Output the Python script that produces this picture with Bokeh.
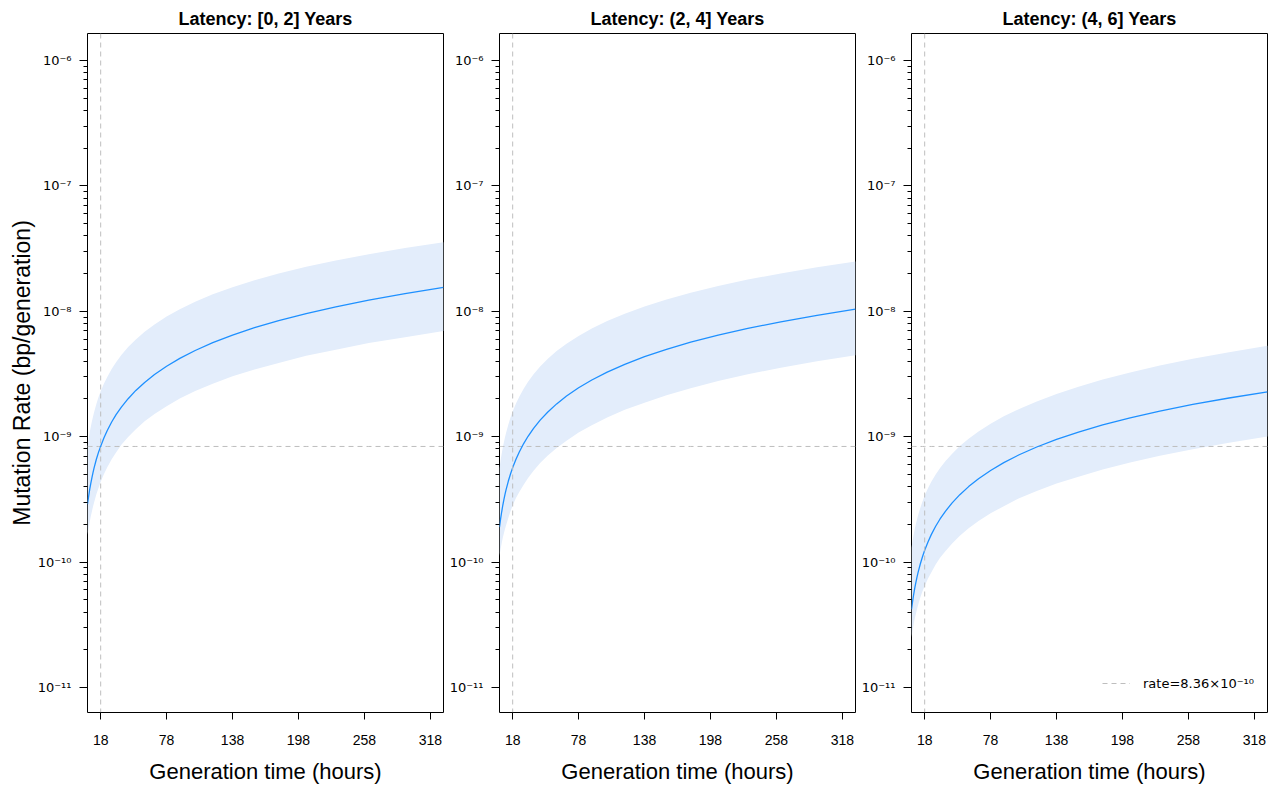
from bokeh.plotting import figure
from bokeh.models import (FixedTicker, Range1d, Span, Legend, LegendItem,
                          CustomJSTickFormatter)
from bokeh.layouts import row
from bokeh.embed import file_html
from bokeh.resources import INLINE

# ---------------- data ----------------
gen_hours = [6, 7, 8, 9, 10, 11, 12, 14, 16, 18, 21, 24, 28, 32, 37, 43, 50, 58, 67, 78,
             90, 104, 120, 138, 158, 180, 205, 232, 262, 295, 330]

panel_titles = ["Latency: [0, 2] Years", "Latency: (2, 4] Years", "Latency: (4, 6] Years"]

rate_mid_0_2 = [2.9e-10, 3.33e-10, 3.8e-10, 4.25e-10, 4.7e-10, 5.17e-10, 5.64e-10, 6.58e-10,
                7.5e-10, 8.4e-10, 9.8e-10, 1.12e-9, 1.31e-9, 1.5e-9, 1.73e-9, 2.01e-9, 2.34e-9,
                2.71e-9, 3.13e-9, 3.65e-9, 4.21e-9, 4.87e-9, 5.62e-9, 6.46e-9, 7.4e-9, 8.43e-9,
                9.6e-9, 1.086e-8, 1.227e-8, 1.383e-8, 1.55e-8]
rate_hi_0_2 = [8.41e-10, 9.56e-10, 1.083e-9, 1.203e-9, 1.321e-9, 1.442e-9, 1.568e-9, 1.816e-9,
               2.063e-9, 2.302e-9, 2.656e-9, 3.0e-9, 3.47e-9, 3.93e-9, 4.5e-9, 5.19e-9, 5.97e-9,
               6.86e-9, 7.86e-9, 9.09e-9, 1.04e-8, 1.193e-8, 1.366e-8, 1.557e-8, 1.769e-8,
               1.998e-8, 2.266e-8, 2.541e-8, 2.847e-8, 3.195e-8, 3.55e-8]
rate_lo_0_2 = [1.653e-10, 1.865e-10, 2.09e-10, 2.316e-10, 2.538e-10, 2.766e-10, 2.989e-10,
               3.455e-10, 3.9e-10, 4.368e-10, 5.047e-10, 5.712e-10, 6.616e-10, 7.5e-10, 8.65e-10,
               9.95e-10, 1.147e-9, 1.328e-9, 1.518e-9, 1.752e-9, 2.021e-9, 2.313e-9, 2.641e-9,
               3.036e-9, 3.441e-9, 3.878e-9, 4.416e-9, 4.941e-9, 5.583e-9, 6.224e-9, 6.975e-9]

rate_mid_2_4 = [1.9e-10, 2.21e-10, 2.52e-10, 2.84e-10, 3.15e-10, 3.47e-10, 3.78e-10, 4.41e-10,
                5.04e-10, 5.67e-10, 6.62e-10, 7.56e-10, 8.82e-10, 1.008e-9, 1.166e-9, 1.355e-9,
                1.575e-9, 1.827e-9, 2.111e-9, 2.457e-9, 2.835e-9, 3.276e-9, 3.78e-9, 4.347e-9,
                4.977e-9, 5.67e-9, 6.458e-9, 7.308e-9, 8.253e-9, 9.293e-9, 1.04e-8]
rate_hi_2_4 = [5.6e-10, 6.48e-10, 7.33e-10, 8.21e-10, 9.04e-10, 9.92e-10, 1.077e-9, 1.248e-9,
               1.421e-9, 1.593e-9, 1.84e-9, 2.087e-9, 2.417e-9, 2.742e-9, 3.148e-9, 3.631e-9,
               4.19e-9, 4.823e-9, 5.51e-9, 6.364e-9, 7.286e-9, 8.354e-9, 9.563e-9, 1.091e-8,
               1.244e-8, 1.406e-8, 1.595e-8, 1.79e-8, 2.005e-8, 2.249e-8, 2.496e-8]
rate_lo_2_4 = [1.121e-10, 1.271e-10, 1.411e-10, 1.562e-10, 1.701e-10, 1.839e-10, 1.966e-10,
               2.249e-10, 2.545e-10, 2.835e-10, 3.244e-10, 3.629e-10, 4.145e-10, 4.687e-10,
               5.364e-10, 6.165e-10, 7.088e-10, 8.13e-10, 9.288e-10, 1.081e-9, 1.233e-9,
               1.425e-9, 1.644e-9, 1.869e-9, 2.14e-9, 2.438e-9, 2.777e-9, 3.142e-9, 3.549e-9,
               3.996e-9, 4.472e-9]

rate_mid_4_6 = [4.2e-11, 4.87e-11, 5.54e-11, 6.22e-11, 6.9e-11, 7.59e-11, 8.28e-11, 9.66e-11,
                1.104e-10, 1.242e-10, 1.449e-10, 1.656e-10, 1.932e-10, 2.208e-10, 2.553e-10,
                2.967e-10, 3.45e-10, 4.0e-10, 4.62e-10, 5.38e-10, 6.21e-10, 7.18e-10, 8.28e-10,
                9.52e-10, 1.09e-9, 1.242e-9, 1.415e-9, 1.601e-9, 1.808e-9, 2.036e-9, 2.277e-9]
rate_hi_4_6 = [1.302e-10, 1.485e-10, 1.662e-10, 1.841e-10, 2.015e-10, 2.186e-10, 2.36e-10,
               2.705e-10, 3.047e-10, 3.391e-10, 3.883e-10, 4.372e-10, 5.004e-10, 5.63e-10,
               6.408e-10, 7.328e-10, 8.418e-10, 9.64e-10, 1.1e-9, 1.27e-9, 1.453e-9, 1.666e-9,
               1.913e-9, 2.19e-9, 2.507e-9, 2.857e-9, 3.255e-9, 3.698e-9, 4.176e-9, 4.724e-9,
               5.305e-9]
rate_lo_4_6 = [2.52e-11, 2.873e-11, 3.213e-11, 3.545e-11, 3.864e-11, 4.212e-11, 4.554e-11,
               5.216e-11, 5.851e-11, 6.458e-11, 7.39e-11, 8.28e-11, 9.563e-11, 1.082e-10,
               1.225e-10, 1.409e-10, 1.622e-10, 1.86e-10, 2.125e-10, 2.448e-10, 2.795e-10,
               3.231e-10, 3.685e-10, 4.236e-10, 4.796e-10, 5.465e-10, 6.226e-10, 7.044e-10,
               7.955e-10, 8.958e-10, 1.002e-9]

ref_rate = 8.36e-10
ref_gen_hours = 18
legend_label = "rate=8.36×10⁻¹⁰"

x_ticks = [18, 78, 138, 198, 258, 318]
y_ticks = [1e-11, 1e-10, 1e-9, 1e-8, 1e-7, 1e-6]
y_tick_labels = ["10⁻¹¹", "10⁻¹⁰", "10⁻⁹", "10⁻⁸", "10⁻⁷", "10⁻⁶"]

x_label = "Generation time (hours)"
y_label = "Mutation Rate (bp/generation)"

# ---------------- styling ----------------
FONT = "Liberation Sans"
SUP_FONT = "DejaVu Sans"
LINE_BLUE = "#1E90FF"
BAND_BLUE = "#E3EDFB"
DASH_GREY = "#BEBEBE"
FRAME_W = 356

y_minor = [m * d for d in y_ticks[:-1] for m in range(2, 10)]

series = [
    (rate_lo_0_2, rate_mid_0_2, rate_hi_0_2),
    (rate_lo_2_4, rate_mid_2_4, rate_hi_2_4),
    (rate_lo_4_6, rate_mid_4_6, rate_hi_4_6),
]

y_fmt_code = """
for (let i = 0; i < tvals.length; i++) {
  if (Math.abs(Math.log10(tick) - Math.log10(tvals[i])) < 1e-6) { return tlabels[i]; }
}
return "";
"""

panels = []
for i, (title, (lo, mid, hi)) in enumerate(zip(panel_titles, series)):
    first = (i == 0)
    ml = 87 if first else 54
    p = figure(width=ml + FRAME_W + 2, height=786, y_axis_type="log",
               x_range=Range1d(6, 330), y_range=Range1d(6.32e-12, 1.642e-6),
               output_backend="svg", toolbar_location=None,
               min_border_left=ml, min_border_right=2,
               min_border_top=33, min_border_bottom=74)
    p.grid.visible = False
    p.outline_line_color = "black"
    p.outline_line_width = 1
    p.background_fill_color = "white"
    p.border_fill_color = "white"

    p.title.text = title
    p.title.text_font = FONT
    p.title.text_font_size = "18px"
    p.title.text_font_style = "bold"
    p.title.text_color = "black"
    p.title.align = "center"
    p.title.standoff = 10

    p.varea(x=gen_hours, y1=lo, y2=hi, fill_color=BAND_BLUE, fill_alpha=1.0)
    ref_line = p.line(x=gen_hours, y=[ref_rate] * len(gen_hours), line_color=DASH_GREY,
                      line_dash="5 4", line_width=1)
    p.add_layout(Span(location=ref_gen_hours, dimension="height", line_color=DASH_GREY,
                      line_dash="5 4", line_width=1, level="glyph"))
    p.line(x=gen_hours, y=mid, line_color=LINE_BLUE, line_width=1.3)

    # x axis
    xa = p.xaxis[0]
    xa.ticker = FixedTicker(ticks=x_ticks)
    xa.axis_line_color = None
    xa.major_tick_in = 0
    xa.major_tick_out = 7
    xa.minor_tick_line_color = None
    xa.major_label_text_font = FONT
    xa.major_label_text_font_size = "14px"
    xa.major_label_text_color = "black"
    xa.major_label_standoff = 15
    xa.axis_label = x_label
    xa.axis_label_text_font = FONT
    xa.axis_label_text_font_size = "22px"
    xa.axis_label_text_font_style = "normal"
    xa.axis_label_text_color = "black"
    xa.axis_label_standoff = 11

    # y axis
    ya = p.yaxis[0]
    ya.ticker = FixedTicker(ticks=y_ticks, minor_ticks=y_minor)
    ya.formatter = CustomJSTickFormatter(args=dict(tvals=y_ticks, tlabels=y_tick_labels),
                                         code=y_fmt_code)
    ya.axis_line_color = None
    ya.major_tick_in = 0
    ya.major_tick_out = 8
    ya.minor_tick_in = 0
    ya.minor_tick_out = 4
    ya.major_label_text_font = SUP_FONT
    ya.major_label_text_font_size = "13px"
    ya.major_label_text_color = "black"
    ya.major_label_standoff = 8
    if first:
        ya.axis_label = y_label
        ya.axis_label_text_font = FONT
        ya.axis_label_text_font_size = "23px"
        ya.axis_label_text_font_style = "normal"
        ya.axis_label_text_color = "black"
        ya.axis_label_standoff = 0

    if i == 2:
        legend = Legend(items=[LegendItem(label=legend_label, renderers=[ref_line])],
                        location=(191, 21))
        legend.padding = 0
        legend.margin = 0
        legend.glyph_width = 28
        legend.glyph_height = 16
        legend.label_standoff = 13
        legend.label_text_font = SUP_FONT
        legend.label_text_font_size = "13px"
        legend.label_text_color = "black"
        legend.border_line_alpha = 0
        legend.background_fill_alpha = 0
        p.add_layout(legend)

    panels.append(p)

layout = row(*panels, spacing=0)
open("out.html", "w").write(file_html(layout, INLINE))
